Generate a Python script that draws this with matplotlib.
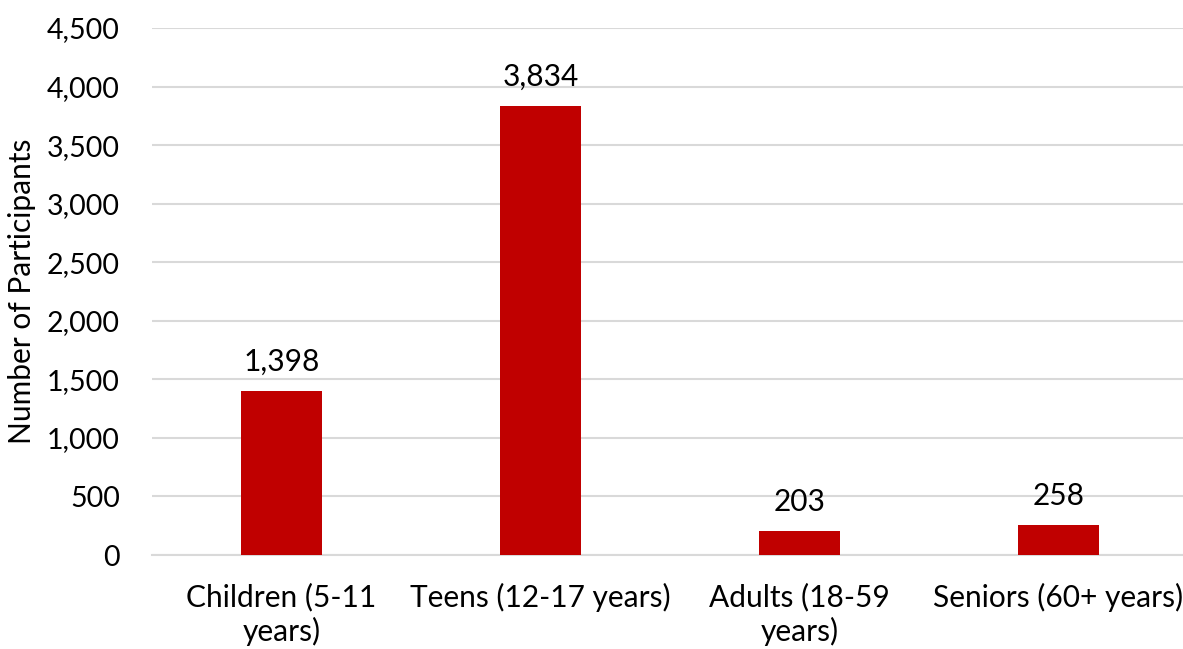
import matplotlib.pyplot as plt
from matplotlib.ticker import FuncFormatter

# participants per age group
categorias = ["Children (5-11\nyears)", "Teens (12-17 years)", "Adults (18-59\nyears)", "Seniors (60+ years)"]
participantes = [1398, 3834, 203, 258]

plt.rcParams["font.family"] = ["Lato", "DejaVu Sans"]

fig = plt.figure(figsize=(11.83, 6.49), dpi=100)
ax = fig.add_axes([0.1285, 0.1448, 0.8757, 0.8121])

x = range(len(categorias))
barras = ax.bar(x, participantes, width=0.31, color="#C00000", zorder=3)

for xi, v in zip(x, participantes):
    ax.annotate(f"{v:,}", (xi, v), xytext=(0, 11), textcoords="offset points",
                ha="center", va="bottom", fontsize=21.5)

ax.set_xlim(-0.5, len(categorias) - 0.5)
ax.set_ylim(0, 4500)
ax.set_yticks(range(0, 4501, 500))
ax.yaxis.set_major_formatter(FuncFormatter(lambda v, p: f"{int(v):,}"))
ax.set_xticks(list(x))
ax.set_xticklabels(categorias, fontsize=21.5, linespacing=1.22)
ax.tick_params(axis="y", labelsize=20.5, length=0, pad=23)
ax.tick_params(axis="x", length=0, pad=20)

ax.grid(axis="y", color="#d9d9d9", linewidth=1.5, zorder=0)
for s in ["top", "right", "left"]:
    ax.spines[s].set_visible(False)
ax.spines["bottom"].set_color("#d9d9d9")
ax.spines["bottom"].set_linewidth(1.5)

ax.set_ylabel("Number of Participants", fontsize=21.5, labelpad=8)

fig.savefig("out.png", dpi=100)
